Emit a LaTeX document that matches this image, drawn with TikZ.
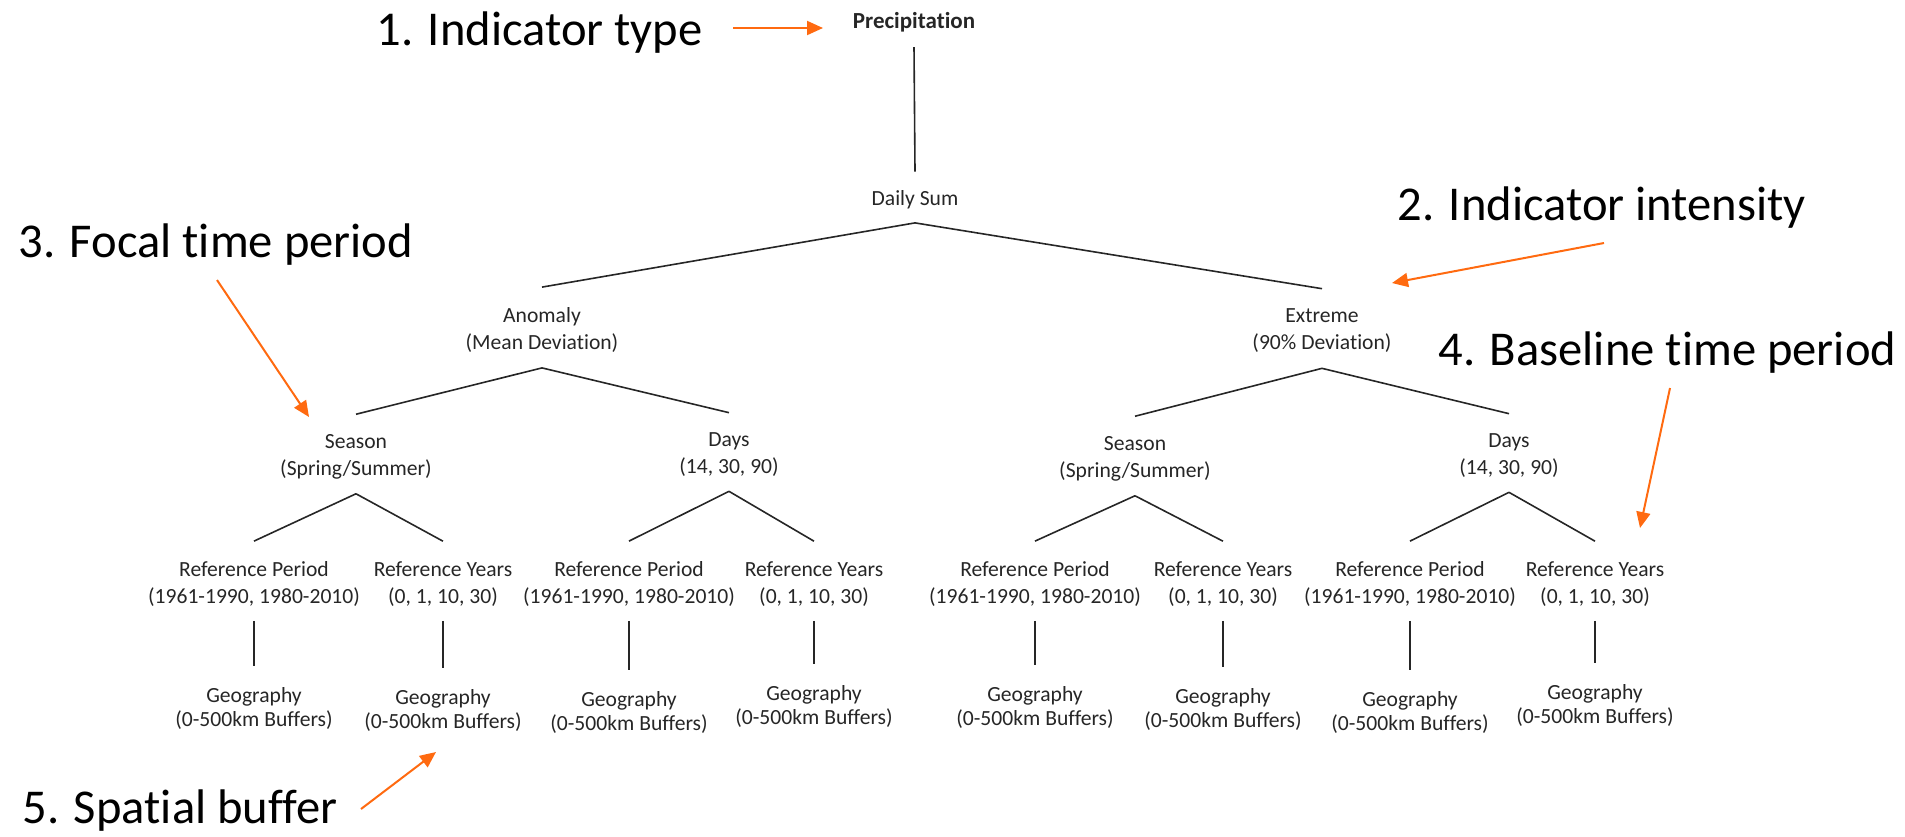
\documentclass[tikz,border=0pt]{standalone}
\usepackage{fontspec}
\setmainfont{Carlito}[Ligatures=CommonOff]
\usetikzlibrary{arrows.meta}
\definecolor{accent}{HTML}{FF6A10}
\definecolor{ink}{HTML}{262626}

\begin{document}
\begin{tikzpicture}[x=0.5pt, y=-0.5pt,
        item/.style={align=center, text=ink, inner sep=0pt, font=\fontsize{10.8}{13.5}\selectfont},
        place/.style={item, font=\fontsize{10.8}{12}\selectfont},
        stage/.style={anchor=base west, inner sep=0pt, font=\fontsize{24.3}{28}\selectfont},
        branch/.style={draw=ink, line width=0.8pt},
        pointer/.style={draw=accent, line width=1pt, -{Triangle[length=8pt,width=7pt]}}]
            \useasboundingbox (0,0) rectangle (1905,836);
            % tree nodes
            \node[item, anchor=base, font=\fontsize{11.5}{13.5}\selectfont\bfseries] (prec) at (914,28) {Precipitation};
            \node[item, anchor=base] (daily) at (915,205) {Daily Sum};
            \node[item] (anom) at (542,330) {Anomaly\\(Mean Deviation)};
            \node[item] (extr) at (1322,331) {Extreme\\(90\% Deviation)};
            \node[item] (seasA) at (356,457) {Season\\(Spring/Summer)};
            \node[item] (daysA) at (729,455) {Days\\(14, 30, 90)};
            \node[item] (seasE) at (1135,459) {Season\\(Spring/Summer)};
            \node[item] (daysE) at (1509,456) {Days\\(14, 30, 90)};
            \foreach \n/\x in {1/254, 3/629, 5/1035, 7/1410}
                \node[item] (ref\n) at (\x,584) {Reference Period\\(1961-1990, 1980-2010)};
            \foreach \n/\x in {2/443, 4/814, 6/1223, 8/1595}
                \node[item] (ref\n) at (\x,584) {Reference Years\\(0, 1, 10, 30)};
            \foreach \n/\x/\y in {1/254/708, 2/443/710, 3/629/712, 4/814/706, 5/1035/707, 6/1223/709, 7/1410/712, 8/1595/705}
                \node[place] (geo\n) at (\x,\y) {Geography\\(0-500km Buffers)};
            % branches
            \draw[branch] ([yshift=-7.5pt]prec.south) -- ([yshift=9pt]daily.north);
            \foreach \c in {anom, extr}
                \draw[branch] ([yshift=-7pt]daily.south) -- ([yshift=10pt]\c.north);
            \foreach \p/\c in {anom/seasA, anom/daysA, extr/seasE, extr/daysE}
                \draw[branch] ([yshift=-7.5pt]\p.south) -- ([yshift=10pt]\c.north);
            \foreach \p/\c in {seasA/ref1, seasA/ref2, daysA/ref3, daysA/ref4, seasE/ref5, seasE/ref6, daysE/ref7, daysE/ref8}
                \draw[branch] ([yshift=-7pt]\p.south) -- ([yshift=10pt]\c.north);
            \foreach \n in {1,...,8}
                \draw[branch] ([yshift=-7pt]ref\n.south) -- ([yshift=10.5pt]geo\n.north);
            % stage labels
            \node[stage] (lab1) at (376,45) {1. Indicator type};
            \node[stage] (lab2) at (1397,220) {2. Indicator intensity};
            \node[stage] (lab3) at (18,257) {3. Focal time period};
            \node[stage] (lab4) at (1438,365) {4. Baseline time period};
            \node[stage] (lab5) at (22,823) {5. Spatial buffer};
            % pointers
            \coordinate (p1s) at (733,28);   \coordinate (p1e) at (823,28);
            \coordinate (p2s) at (1604,243); \coordinate (p2e) at (1392,283);
            \coordinate (p3s) at (217,280);  \coordinate (p3e) at (309,417);
            \coordinate (p4s) at (1670,388); \coordinate (p4e) at (1640,528);
            \coordinate (p5s) at (361,809);  \coordinate (p5e) at (436,752);
            \foreach \k in {1,...,5}
                \draw[pointer] (p\k s) -- (p\k e);
        \end{tikzpicture}
\end{document}
